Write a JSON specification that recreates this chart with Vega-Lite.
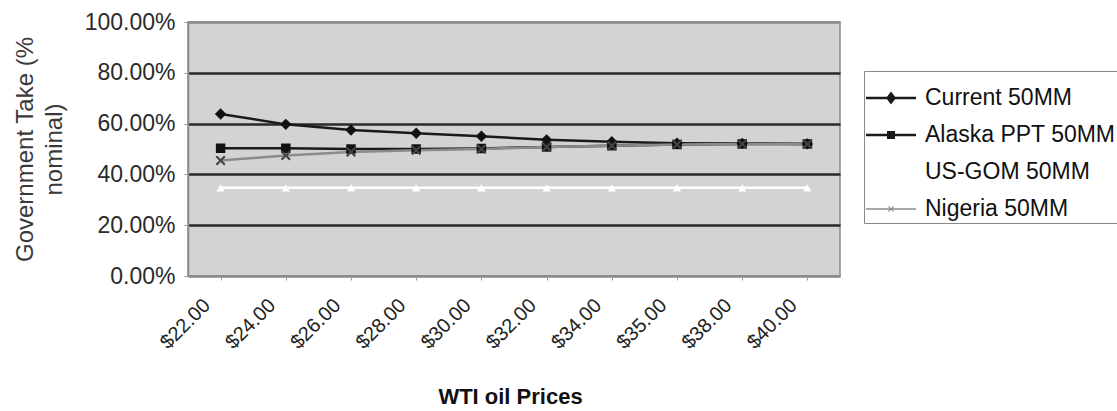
{
  "$schema": "https://vega.github.io/schema/vega-lite/v6.json",
  "width": 652,
  "height": 254,
  "autosize": {"type": "none"},
  "padding": {"left": 188, "top": 22, "right": 277, "bottom": 135},
  "background": "white",
  "config": {
    "font": "Liberation Sans",
    "view": {"fill": "#d3d3d3", "stroke": "#8a8a8a", "strokeWidth": 1.5}
  },
  "data": {
    "values": [
      {"price": "$22.00", "series": "Current 50MM", "take": 0.638},
      {"price": "$24.00", "series": "Current 50MM", "take": 0.597},
      {"price": "$26.00", "series": "Current 50MM", "take": 0.575},
      {"price": "$28.00", "series": "Current 50MM", "take": 0.562},
      {"price": "$30.00", "series": "Current 50MM", "take": 0.550},
      {"price": "$32.00", "series": "Current 50MM", "take": 0.536},
      {"price": "$34.00", "series": "Current 50MM", "take": 0.529},
      {"price": "$35.00", "series": "Current 50MM", "take": 0.523},
      {"price": "$38.00", "series": "Current 50MM", "take": 0.522},
      {"price": "$40.00", "series": "Current 50MM", "take": 0.520},
      {"price": "$22.00", "series": "Alaska PPT 50MM", "take": 0.503},
      {"price": "$24.00", "series": "Alaska PPT 50MM", "take": 0.503},
      {"price": "$26.00", "series": "Alaska PPT 50MM", "take": 0.500},
      {"price": "$28.00", "series": "Alaska PPT 50MM", "take": 0.500},
      {"price": "$30.00", "series": "Alaska PPT 50MM", "take": 0.502},
      {"price": "$32.00", "series": "Alaska PPT 50MM", "take": 0.508},
      {"price": "$34.00", "series": "Alaska PPT 50MM", "take": 0.513},
      {"price": "$35.00", "series": "Alaska PPT 50MM", "take": 0.518},
      {"price": "$38.00", "series": "Alaska PPT 50MM", "take": 0.520},
      {"price": "$40.00", "series": "Alaska PPT 50MM", "take": 0.520},
      {"price": "$22.00", "series": "US-GOM 50MM", "take": 0.347},
      {"price": "$24.00", "series": "US-GOM 50MM", "take": 0.347},
      {"price": "$26.00", "series": "US-GOM 50MM", "take": 0.347},
      {"price": "$28.00", "series": "US-GOM 50MM", "take": 0.347},
      {"price": "$30.00", "series": "US-GOM 50MM", "take": 0.347},
      {"price": "$32.00", "series": "US-GOM 50MM", "take": 0.347},
      {"price": "$34.00", "series": "US-GOM 50MM", "take": 0.347},
      {"price": "$35.00", "series": "US-GOM 50MM", "take": 0.347},
      {"price": "$38.00", "series": "US-GOM 50MM", "take": 0.347},
      {"price": "$40.00", "series": "US-GOM 50MM", "take": 0.347},
      {"price": "$22.00", "series": "Nigeria 50MM", "take": 0.455},
      {"price": "$24.00", "series": "Nigeria 50MM", "take": 0.474},
      {"price": "$26.00", "series": "Nigeria 50MM", "take": 0.488},
      {"price": "$28.00", "series": "Nigeria 50MM", "take": 0.495},
      {"price": "$30.00", "series": "Nigeria 50MM", "take": 0.500},
      {"price": "$32.00", "series": "Nigeria 50MM", "take": 0.508},
      {"price": "$34.00", "series": "Nigeria 50MM", "take": 0.513},
      {"price": "$35.00", "series": "Nigeria 50MM", "take": 0.518},
      {"price": "$38.00", "series": "Nigeria 50MM", "take": 0.520},
      {"price": "$40.00", "series": "Nigeria 50MM", "take": 0.520}
    ]
  },
  "encoding": {
    "x": {
      "field": "price",
      "type": "ordinal",
      "sort": null,
      "scale": {"paddingInner": 0, "paddingOuter": 0},
      "axis": {
        "title": "WTI oil Prices",
        "titleFontSize": 22,
        "titleFontWeight": "bold",
        "titleColor": "#111",
        "titleX": 322,
        "titleY": 127,
        "titleBaseline": "alphabetic",
        "labelAngle": -45,
        "labelAlign": "right",
        "labelBaseline": "middle",
        "labelFontSize": 20,
        "labelColor": "#222",
        "labelPadding": 22,
        "labelOffset": -14,
        "bandPosition": 0,
        "tickColor": "#999",
        "tickSize": 4,
        "domainColor": "#8a8a8a",
        "domainWidth": 1.5,
        "grid": false
      }
    },
    "y": {
      "field": "take",
      "type": "quantitative",
      "scale": {"domain": [0, 1], "nice": false},
      "axis": {
        "title": ["Government Take (%", "nominal)"],
        "titleFontSize": 24,
        "titleFontWeight": "normal",
        "titleColor": "#3a3a3a",
        "titleLineHeight": 29,
        "titleBaseline": "middle",
        "titleX": -163,
        "titleY": 127,
        "format": ".2%",
        "values": [0, 0.2, 0.4, 0.6, 0.8, 1],
        "labelFontSize": 23,
        "labelColor": "#2a2a2a",
        "labelPadding": 9,
        "tickColor": "#999",
        "tickSize": 4,
        "domainColor": "#8a8a8a",
        "domainWidth": 1.5,
        "grid": true,
        "gridColor": {"condition": {"test": "datum.value === 0 || datum.value === 1", "value": "#8a8a8a"}, "value": "#2a2a2a"},
        "gridWidth": 2.5
      }
    },
    "color": {
      "field": "series",
      "type": "nominal",
      "scale": {
        "domain": ["Current 50MM", "Alaska PPT 50MM", "US-GOM 50MM", "Nigeria 50MM"],
        "range": ["#1a1a1a", "#1a1a1a", "#ffffff", "#8c8c8c"]
      },
      "legend": {
        "title": null,
        "orient": "none",
        "legendX": 676,
        "legendY": 49,
        "padding": 2,
        "strokeColor": "#888",
        "fillColor": "#ffffff",
        "labelFontSize": 23,
        "labelColor": "#111",
        "labelOffset": 9,
        "labelLimit": 400,
        "rowPadding": -14,
        "symbolSize": 2500,
        "symbolStrokeWidth": 0
      }
    }
  },
  "layer": [
    {"mark": {"type": "line", "strokeWidth": 2.5}},
    {
      "transform": [{"filter": "datum.series === 'Current 50MM'"}],
      "mark": {"type": "point", "filled": true, "shape": "diamond", "size": 130, "opacity": 1},
      "encoding": {"color": {"value": "#111"}}
    },
    {
      "transform": [{"filter": "datum.series === 'Alaska PPT 50MM'"}],
      "mark": {"type": "point", "filled": true, "shape": "square", "size": 90, "opacity": 1},
      "encoding": {"color": {"value": "#111"}}
    },
    {
      "transform": [{"filter": "datum.series === 'US-GOM 50MM'"}],
      "mark": {"type": "point", "filled": true, "shape": "triangle-up", "size": 70, "opacity": 1},
      "encoding": {"color": {"value": "#ffffff"}}
    },
    {
      "transform": [{"filter": "datum.series === 'Nigeria 50MM'"}],
      "mark": {"type": "point", "filled": true, "shape": "M-1,-0.7L-0.7,-1L0,-0.3L0.7,-1L1,-0.7L0.3,0L1,0.7L0.7,1L0,0.3L-0.7,1L-1,0.7L-0.3,0Z", "size": 100, "opacity": 1},
      "encoding": {"color": {"value": "#444"}}
    },
    {
      "transform": [{"filter": "false"}],
      "mark": {"type": "point", "filled": true, "size": 2500, "opacity": 1},
      "encoding": {
        "shape": {
          "field": "series",
          "type": "nominal",
          "scale": {
            "domain": ["Current 50MM", "Alaska PPT 50MM", "US-GOM 50MM", "Nigeria 50MM"],
            "range": [
              "M-1,-0.05H1V0.05H-1Z M0,-0.26L0.2,0L0,0.26L-0.2,0Z",
              "M-1,-0.05H1V0.05H-1Z M-0.16,-0.16H0.16V0.16H-0.16Z",
              "M-1,-0.04H1V0.04H-1Z M0,-0.15L0.15,0.12H-0.15Z",
              "M-1,-0.03H1V0.03H-1Z M-0.12,-0.09L-0.09,-0.12L0,-0.03L0.09,-0.12L0.12,-0.09L0.03,0L0.12,0.09L0.09,0.12L0,0.03L-0.09,0.12L-0.12,0.09L-0.03,0Z"
            ]
          }
        }
      }
    }
  ]
}
